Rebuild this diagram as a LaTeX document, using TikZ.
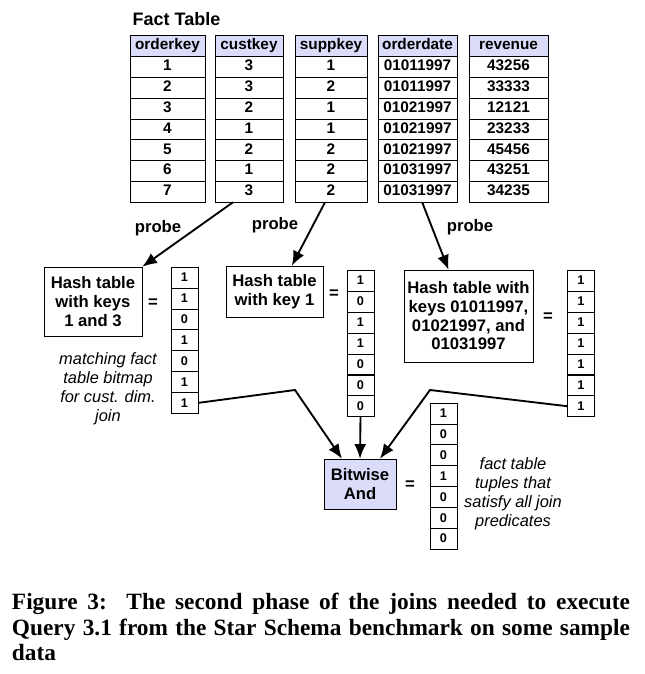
\documentclass[tikz,border=0pt]{standalone}
\usepackage{fontspec}
\setmainfont{Liberation Sans}
\newfontfamily\capfont{Liberation Serif}
\usetikzlibrary{arrows.meta}

\definecolor{headblue}{RGB}{218,220,250}

\begin{document}
\begin{tikzpicture}[x=0.75pt,y=-0.75pt,
    cell/.style={draw, thin, inner sep=0pt, minimum height=15.6pt, text height=8.2pt, text depth=2.2pt, font=\fontsize{11.5}{13}\selectfont\bfseries},
    head/.style={cell, fill=headblue},
    bit/.style={draw, thin, inner sep=0pt, minimum width=20.5pt, minimum height=15.65pt, font=\fontsize{9.5}{11}\selectfont\bfseries},
    hash/.style={draw, thin, inner sep=0pt, align=center, font=\fontsize{12.5}{14}\selectfont\bfseries},
    note/.style={align=center, font=\fontsize{12.3}{14.3}\selectfont\itshape},
    lbl/.style={font=\fontsize{12.5}{14}\selectfont\bfseries},
    arr/.style={-{Latex[length=11pt,width=9pt]}, line width=1.4pt},
]
\useasboundingbox (0,0) rectangle (644,674);

\node[font=\fontsize{13.5}{15}\selectfont\bfseries, anchor=west] (title) at (128,19) {Fact Table};

% fact table columns
\node[head, minimum width=56.25pt] (ok-0) at (167.5,46) {orderkey};
\foreach \v [count=\i] in {1,2,3,4,5,6,7}
  \node[cell, minimum width=56.25pt] (ok-\i) at (167.5,46+20.8*\i) {\v};

\node[head, minimum width=51pt] (ck-0) at (249,46) {custkey};
\foreach \v [count=\i] in {3,3,2,1,2,1,3}
  \node[cell, minimum width=51pt] (ck-\i) at (249,46+20.8*\i) {\v};

\node[head, minimum width=54pt] (sk-0) at (331,46) {suppkey};
\foreach \v [count=\i] in {1,2,1,1,2,2,2}
  \node[cell, minimum width=54pt] (sk-\i) at (331,46+20.8*\i) {\v};

\node[head, minimum width=59.25pt] (od-0) at (417.5,46) {orderdate};
\foreach \v [count=\i] in {01011997,01011997,01021997,01021997,01021997,01031997,01031997}
  \node[cell, minimum width=59.25pt] (od-\i) at (417.5,46+20.8*\i) {\v};

\node[head, minimum width=59.25pt] (rv-0) at (508.5,46) {revenue};
\foreach \v [count=\i] in {43256,33333,12121,23233,45456,43251,34235}
  \node[cell, minimum width=59.25pt] (rv-\i) at (508.5,46+20.8*\i) {\v};

% hash tables
\node[hash, minimum width=73.5pt, minimum height=51.75pt] (h1) at (93,301.5) {Hash table\\with keys\\1 and 3};
\node[hash, minimum width=72.75pt, minimum height=38.25pt] (h2) at (274.5,291.5) {Hash table\\with key 1};
\node[hash, minimum width=96.75pt, minimum height=69pt] (h3) at (468.5,316) {Hash table with\\keys 01011997,\\01021997, and\\01031997};

\node[lbl] (p1) at (158,228) {probe};
\node[lbl] (p2) at (275,225) {probe};
\node[lbl] (p3) at (470,227) {probe};

\draw[arr] ([xshift=-12pt]ck-7.south) -- (h1.north east);
\draw[arr] ([xshift=-4.5pt]sk-7.south) -- ([xshift=13pt]h2.north);
\draw[arr] ([xshift=3.5pt]od-7.south) -- ([xshift=-15pt]h3.north);

% bitmaps
\node[lbl] (eq1) at (153,303) {=};
\foreach \v [count=\i] in {1,1,0,1,0,1,1}
  \node[bit] (b1-\i) at (184.5,267+20.9*\i-10.45) {\v};

\node[lbl] (eq2) at (334,294) {=};
\foreach \v [count=\i] in {1,0,1,1,0,0,0}
  \node[bit] (b2-\i) at (360.5,270+20.95*\i-10.47) {\v};

\node[lbl] (eq3) at (548,317) {=};
\foreach \v [count=\i] in {1,1,1,1,1,1,1}
  \node[bit] (b3-\i) at (581,270+20.95*\i-10.47) {\v};

\node[note] (n1) at (108,389) {matching fact\\table bitmap\\for cust. dim.\\join};

% bitwise and
\node[hash, fill=headblue, minimum width=54pt, minimum height=37.5pt] (and) at (360,484) {Bitwise\\And};
\node[lbl] (eq4) at (410,485) {=};
\foreach \v [count=\i] in {1,0,0,1,0,0,0}
  \node[bit] (r-\i) at (443.5,403+20.86*\i-10.43) {\v};
\node[note] (n2) at (513,494) {fact table\\tuples that\\satisfy all join\\predicates};

\coordinate (k1) at (295,390);
\coordinate (k3) at (430,390);
\draw[arr] (b1-7.east) -- (k1) -- ([xshift=-13.5pt]and.north);
\draw[arr] (b2-7.south) -- (and.north);
\draw[arr] (b3-7.west) -- (k3) -- ([xshift=15pt]and.north);

% caption
\node[text width=463.5pt, align=justify, font=\capfont\fontsize{17.5}{19.2}\selectfont\bfseries] (cap) at (321,627)
  {Figure 3:\ \ The second phase of the joins needed to execute\linebreak Query 3.1 from the Star Schema benchmark on some sample\linebreak data};

\end{tikzpicture}
\end{document}
